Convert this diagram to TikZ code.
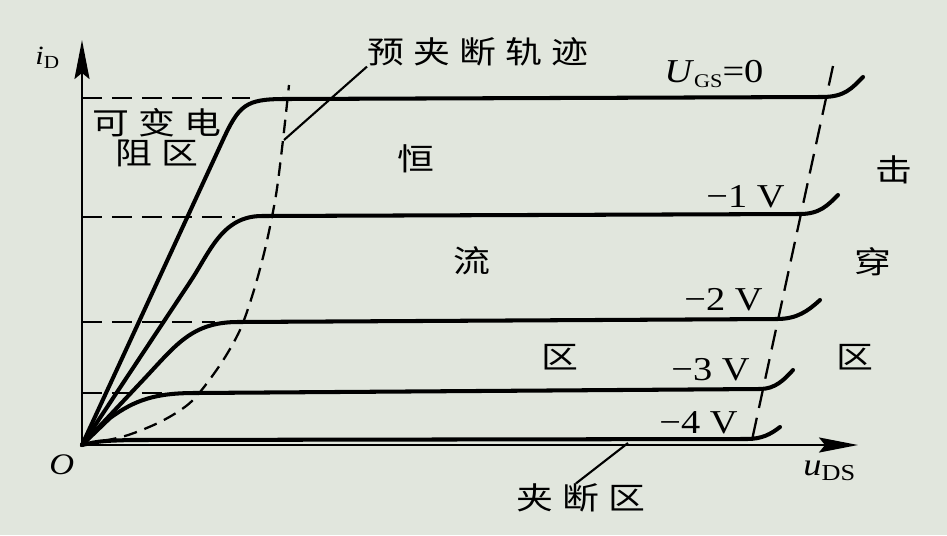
\documentclass[tikz,border=0pt]{standalone}
\usepackage{fontspec}
\setmainfont{Liberation Serif}[FakeStretch=1.15]
\newfontfamily\cjk{Noto Sans CJK SC}[FakeStretch=1.2,LetterSpace=30]
\usetikzlibrary{arrows.meta}

\definecolor{screen}{RGB}{225,230,221}
\newcommand\lowsub[2][11]{\raisebox{-0.35ex}{\fontsize{#1}{#1}\selectfont\upshape #2}}

\tikzset{
  curve/.style={line width=2.3pt,line cap=round,line join=round},
  axis/.style={line width=1.4pt,-{Stealth[length=0.78cm,width=0.3cm,inset=0.12cm]}},
  level/.style={line width=1.3pt,dash pattern=on 0.4cm off 0.2cm},
  trace/.style={line width=1.3pt,dash pattern=on 0.27cm off 0.16cm},
  lead/.style={line width=1.2pt},
  cn/.style={font=\fontsize{17.5}{17}\cjk,inner sep=0pt},
  volt/.style={font=\fontsize{19}{19}\selectfont,inner sep=0pt,anchor=base west},
}

\begin{document}
\begin{tikzpicture}[x=0.02cm,y=-0.02cm]
  \fill[screen] (0,0) rectangle (947,535);
  \useasboundingbox (0,0) rectangle (947,535);

  \coordinate (O) at (82,445);
  \coordinate (ytop) at (82,40);
  \coordinate (xend) at (858,445);

  % extended saturation levels
  \draw[level] (82,98) -- (250,98);
  \draw[level] (82,217) -- (235,217);
  \draw[level] (82,322) -- (215,322);
  \draw[level] (82,393) -- (170,393);

  % output curves
  \draw[curve] (O) -- (222,142) .. controls (239,105) and (245,99) .. (285,99)
    -- (822,97) .. controls (845,97) and (852,88) .. (863,77);
  \draw[curve] (O) -- (190,282) .. controls (210,252) and (222,216) .. (262,216)
    -- (800,214) .. controls (820,214) and (828,205) .. (838,195);
  \draw[curve] (O) -- (145,378) .. controls (176,345) and (192,322) .. (238,322)
    -- (777,319) .. controls (797,319) and (808,311) .. (820,300);
  \draw[curve] (O) -- (110,418) .. controls (135,400) and (155,393) .. (195,393)
    -- (760,389) .. controls (775,389) and (784,380) .. (793,370);
  \draw[curve] (O) .. controls (100,441) .. (130,440)
    -- (747,439) .. controls (762,439) and (771,434) .. (780,427);

  % pinch-off and breakdown borders
  \draw[trace] plot[smooth] coordinates {(82,445) (125,436) (162,421) (192,401)
    (220,365) (240,330) (254,290) (266,245) (276,195) (283,140) (289,85)};
  \draw[level] (833,66) -- (752,440);

  \draw[axis] (O) -- (ytop);
  \draw[axis] (O) -- (xend);

  \node[font=\fontsize{15}{15}\selectfont,inner sep=0pt,anchor=base west] (iD) at (35,64) {\textit{i}\lowsub[10.5]{D}};
  \node[font=\fontsize{18}{18}\selectfont,inner sep=0pt,anchor=base west] (uDS) at (803,475) {\textit{u}\lowsub[13]{DS}};
  \node[font=\fontsize{17}{17}\selectfont,inner sep=0pt,anchor=base west] (orig) at (49,474) {\textit{O}};

  \node[volt] (v0) at (664,82) {\textit{U}\lowsub{GS}=0};
  \node[volt] (v1) at (706,207) {−1 V};
  \node[volt] (v2) at (684,310) {−2 V};
  \node[volt] (v3) at (671,380) {−3 V};
  \node[volt] (v4) at (659,433) {−4 V};

  \node[cn,align=center] (ohm) at (157,138) {可变电\\阻区};
  \node[cn] (heng) at (416,159) {恒};
  \node[cn] (liu) at (472,261) {流};
  \node[cn] (qu) at (560,357) {区};
  \node[cn] (ji) at (894,170) {击};
  \node[cn] (chuan) at (873,262) {穿};
  \node[cn] (bqu) at (855,357) {区};

  \node[cn] (trace) at (478,52) {预夹断轨迹};
  \coordinate (tracept) at (284,140);
  \draw[lead] (trace.south west) -- (tracept);

  \node[cn] (cut) at (581,498) {夹断区};
  \coordinate (cutpt) at (628,443);
  \draw[lead] ([xshift=-0.1cm]cut.north) -- (cutpt);
\end{tikzpicture}
\end{document}
